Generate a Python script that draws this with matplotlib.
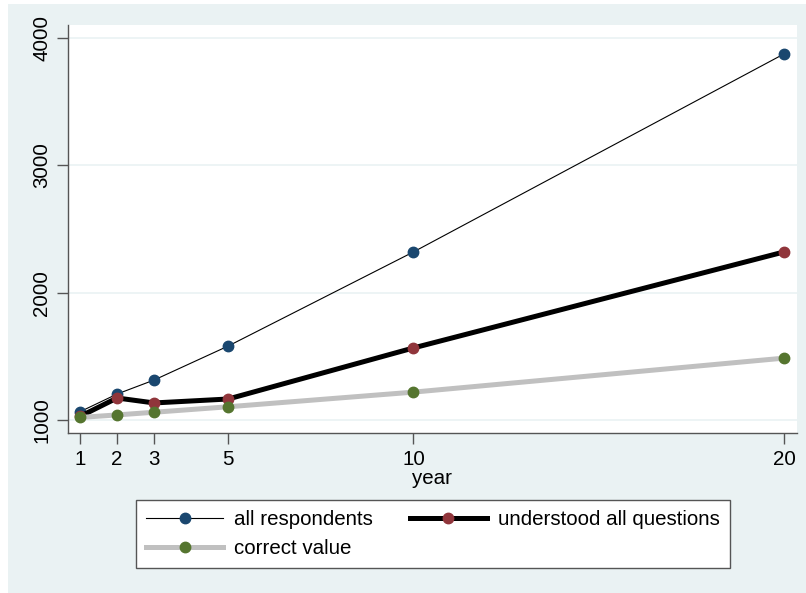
import matplotlib
matplotlib.use("Agg")
import matplotlib.pyplot as plt
from matplotlib.patches import Rectangle

plt.rcParams['font.family'] = ['Liberation Sans', 'DejaVu Sans']

# data
years = [1, 2, 3, 5, 10, 20]
all_resp = [1065, 1204, 1314, 1581, 2320, 3875]
understood = [1028, 1173, 1134, 1165, 1566, 2320]
correct = [1020, 1040, 1061, 1104, 1219, 1486]
yticks = [1000, 2000, 3000, 4000]
labels = ['all respondents', 'understood all questions', 'correct value']

bg = '#EAF2F3'
navy = '#1a476f'
maroon = '#90353b'
green = '#55752f'
gray = '#c0c0c0'

W, H = 806, 593
fig = plt.figure(figsize=(W / 100, H / 100), dpi=100, facecolor='white')
fig.patches.append(Rectangle((8 / W, 0), 1 - 8 / W, 1 - 4 / H,
                             transform=fig.transFigure, facecolor=bg,
                             edgecolor='none', zorder=-10))

# plot region in pixels
x0, x1, y0, y1 = 68, 797, 25, 433
ax = fig.add_axes([x0 / W, 1 - y1 / H, (x1 - x0) / W, (y1 - y0) / H])
ax.set_facecolor('white')

l1, = ax.plot(years, all_resp, color='black', lw=0.8, marker='o', ms=7.5,
              mfc=navy, mec=navy, zorder=3)
l2, = ax.plot(years, understood, color='black', lw=3.6, marker='o', ms=7.5,
              mfc=maroon, mec=maroon, zorder=3)
l3, = ax.plot(years, correct, color=gray, lw=3.6, marker='o', ms=7.5,
              mfc=green, mec=green, zorder=3)

ax.set_xlim(0.676, 20.35)
ax.set_ylim(898, 4102)
ax.set_xticks(years)
ax.set_yticks(yticks)
ax.set_yticklabels([str(v) for v in yticks], rotation=90, va='center')
ax.grid(axis='y', color=bg, lw=1.2)
ax.set_axisbelow(True)

for s in ['top', 'right']:
    ax.spines[s].set_visible(False)
for s in ['left', 'bottom']:
    ax.spines[s].set_color('#555555')
    ax.spines[s].set_linewidth(1.0)
ax.tick_params(length=8, width=1.0, color='#555555', labelsize=14.8, pad=4)
ax.set_xlabel('year', fontsize=14.8, labelpad=0)

# legend fills row by row, so order the handles column-wise
leg = fig.legend([l1, l3, l2], [labels[0], labels[2], labels[1]], ncol=2,
                 loc='upper left', bbox_to_anchor=(136 / W, 1 - 500 / H),
                 borderaxespad=0, fontsize=14.8, numpoints=1,
                 handlelength=3.75, handletextpad=0.53, columnspacing=1.78,
                 labelspacing=0.47, borderpad=0.5, fancybox=False,
                 frameon=True, framealpha=1)
leg.get_frame().set_edgecolor('#555555')
leg.get_frame().set_linewidth(1.0)

fig.savefig('out.png', dpi=100, facecolor=fig.get_facecolor())
